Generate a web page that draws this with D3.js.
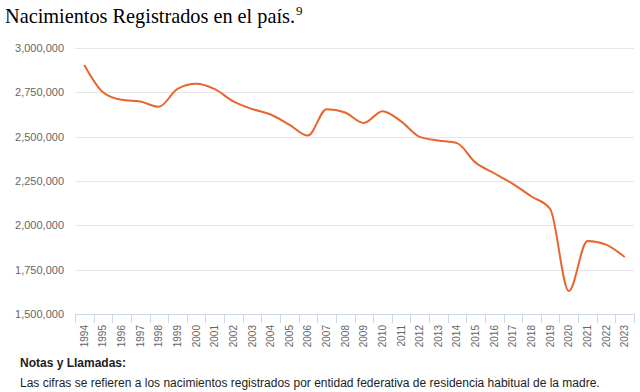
<!DOCTYPE html>
<html>
<head>
<meta charset="utf-8">
<script src="https://cdn.jsdelivr.net/npm/d3@7"></script>
<style>
  body { margin: 0; background: #fff; }
  svg { display: block; }
</style>
</head>
<body>
<svg id="chart" width="640" height="392"></svg>
<script>
// Nacimientos registrados por año
const years = [
  1994, 1995, 1996, 1997, 1998, 1999, 2000, 2001, 2002, 2003,
  2004, 2005, 2006, 2007, 2008, 2009, 2010, 2011, 2012, 2013,
  2014, 2015, 2016, 2017, 2018, 2019, 2020, 2021, 2022, 2023
];
const births = [
  2904389, 2750444, 2707718, 2698425, 2668428, 2769089, 2798339, 2767610, 2699084, 2655894,
  2625056, 2567906, 2505939, 2655083, 2636110, 2577214, 2643908, 2586287, 2498880, 2478889,
  2463420, 2353596, 2293708, 2234039, 2162535, 2092214, 1629211, 1912178, 1891388, 1820888
];
const yTicks = [1500000, 1750000, 2000000, 2250000, 2500000, 2750000, 3000000];

const titleText = 'Nacimientos Registrados en el país.';
const titleNote = '9';
const notesTitle = 'Notas y Llamadas:';
const notesText = 'Las cifras se refieren a los nacimientos registrados por entidad federativa de residencia habitual de la madre.';

const svg = d3.select('#chart');
const labelFont = '"Liberation Sans", Arial, Helvetica, sans-serif';

const plot = { left: 75, right: 634, top: 48, bottom: 314 };

const x = d3.scaleBand()
  .domain(years)
  .range([plot.left, plot.right]);

const y = d3.scaleLinear()
  .domain([1500000, 3000000])
  .range([plot.bottom, plot.top]);

// Title
const title = svg.append('text')
  .attr('x', 5)
  .attr('y', 23)
  .attr('font-family', '"Liberation Serif", "Times New Roman", serif')
  .attr('font-size', 20.3)
  .attr('fill', '#000')
  .text(titleText);
title.append('tspan')
  .attr('font-size', 13)
  .attr('dx', 1)
  .attr('dy', -8)
  .text(titleNote);

// Grid lines
svg.append('g')
  .selectAll('line')
  .data(yTicks.filter((d) => d !== 1500000))
  .enter()
  .append('line')
  .attr('x1', plot.left)
  .attr('x2', plot.right)
  .attr('y1', (d) => Math.round(y(d)) + 0.5)
  .attr('y2', (d) => Math.round(y(d)) + 0.5)
  .attr('stroke', '#e6e6e6')
  .attr('stroke-width', 1);

// Y axis labels
svg.append('g')
  .selectAll('text')
  .data(yTicks)
  .enter()
  .append('text')
  .attr('x', 64)
  .attr('y', (d) => y(d) + 4)
  .attr('text-anchor', 'end')
  .attr('font-family', labelFont)
  .attr('font-size', 11)
  .attr('fill', '#666')
  .text((d) => d3.format(',')(d));

// X axis line and ticks
svg.append('line')
  .attr('x1', plot.left)
  .attr('x2', plot.right)
  .attr('y1', plot.bottom + 0.5)
  .attr('y2', plot.bottom + 0.5)
  .attr('stroke', '#ccd6eb');

svg.append('g')
  .selectAll('line')
  .data([...years.map((d) => x(d)), plot.right])
  .enter()
  .append('line')
  .attr('x1', (d) => Math.round(d) + 0.5)
  .attr('x2', (d) => Math.round(d) + 0.5)
  .attr('y1', plot.bottom)
  .attr('y2', plot.bottom + 9)
  .attr('stroke', '#ccd6eb');

svg.append('g')
  .selectAll('text')
  .data(years)
  .enter()
  .append('text')
  .attr('transform', (d) => `translate(${x(d) + x.bandwidth() / 2 + 3.5},${325}) rotate(-90)`)
  .attr('text-anchor', 'end')
  .attr('font-family', labelFont)
  .attr('font-size', 10)
  .attr('fill', '#666')
  .text((d) => d);

// Line
const line = d3.line()
  .x((d, i) => x(years[i]) + x.bandwidth() / 2)
  .y((d) => y(d))
  .curve(d3.curveMonotoneX);

svg.append('path')
  .datum(births)
  .attr('fill', 'none')
  .attr('stroke', '#e8652e')
  .attr('stroke-width', 2)
  .attr('stroke-linejoin', 'round')
  .attr('d', line);

// Notes
svg.append('text')
  .attr('x', 20)
  .attr('y', 367)
  .attr('font-family', labelFont)
  .attr('font-size', 12)
  .attr('font-weight', 'bold')
  .attr('fill', '#222')
  .text(notesTitle);

svg.append('text')
  .attr('x', 20)
  .attr('y', 387)
  .attr('font-family', labelFont)
  .attr('font-size', 12)
  .attr('fill', '#222')
  .text(notesText);
</script>
</body>
</html>
